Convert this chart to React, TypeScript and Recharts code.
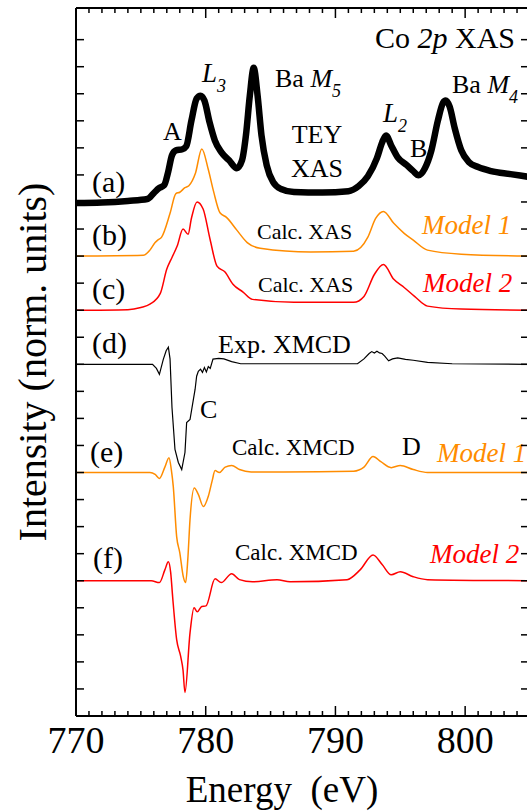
import { Customized, Line, LineChart, XAxis, YAxis } from "recharts";

// Co 2p XAS / XMCD, intensities in normalized units relative to each trace's baseline
const energyTey = [770, 772, 774, 775.5, 776.0, 776.4, 776.8, 777.1, 777.4, 777.7, 778.2, 778.5, 778.9, 779.3, 779.6, 779.9, 780.3, 780.7, 781.2, 781.8, 782.4, 782.8, 783.1, 783.4, 783.7, 784.0, 784.3, 784.7, 785.2, 785.8, 786.8, 789, 791.0, 791.8, 792.5, 793.2, 793.6, 793.9, 794.3, 794.8, 795.5, 796.0, 796.4, 796.9, 797.4, 797.9, 798.3, 798.5, 798.8, 799.2, 799.7, 800.3, 801, 802, 803.5, 805];
const teyXas = [-0.04, -0.02, 0.04, 0.11, 0.33, 0.51, 0.62, 1.1, 1.73, 1.91, 1.95, 2.06, 3.01, 3.82, 3.93, 3.75, 2.94, 2.28, 1.84, 1.54, 1.25, 1.54, 2.46, 3.93, 4.96, 3.93, 2.46, 1.36, 0.73, 0.48, 0.37, 0.35, 0.4, 0.59, 0.95, 1.62, 2.2, 2.46, 2.09, 1.65, 1.36, 1.14, 0.99, 1.25, 1.91, 3.01, 3.67, 3.75, 3.53, 2.72, 1.91, 1.47, 1.29, 1.14, 1.03, 0.92];

const energyXas1 = [770, 775.2, 775.7, 776.1, 776.3, 776.6, 777.25, 777.7, 778.0, 778.4, 778.7, 779.2, 779.7, 780.2, 780.6, 781.1, 781.6, 782.4, 783.2, 784.2, 788.1, 791.4, 792.5, 793.1, 793.7, 794.5, 795.3, 796.0, 797.1, 799.7, 805];
const calcXas1 = [0, 0.03, 0.22, 0.5, 0.59, 0.7, 1.58, 2.31, 2.36, 2.53, 2.6, 3.05, 3.96, 3.2, 2.4, 1.6, 1.43, 0.96, 0.5, 0.29, 0.15, 0.18, 0.7, 1.39, 1.65, 1.21, 0.84, 0.59, 0.22, 0.07, 0];

const energyXas2 = [770, 774, 775.0, 775.7, 776.5, 777.0, 777.4, 777.8, 778.25, 778.64, 778.9, 779.33, 779.8, 780.33, 780.87, 781.49, 782.1, 782.88, 783.6, 786.8, 791.4, 792.2, 793.0, 793.7, 794.5, 795.3, 796.1, 797.1, 799.7, 805];
const calcXas2 = [0, 0.02, 0.1, 0.22, 0.62, 1.52, 1.95, 2.37, 3.0, 2.81, 3.4, 4.0, 3.74, 2.63, 1.63, 1.41, 0.96, 0.67, 0.4, 0.29, 0.29, 0.51, 1.32, 1.69, 1.14, 0.84, 0.51, 0.15, 0.04, 0];

const energyExpXmcd = [770, 775.9, 776.2, 776.43, 776.73, 776.95, 777.12, 777.25, 777.4, 777.63, 777.89, 778.15, 778.4, 778.53, 778.79, 779.05, 779.18, 779.3, 779.43, 779.6, 779.75, 779.9, 780.05, 780.2, 780.35, 780.56, 781.0, 781.4, 782.0, 782.7, 791.7, 792.2, 792.6, 792.8, 793.0, 793.2, 793.4, 793.6, 793.8, 794.1, 794.4, 794.8, 795.4, 796.0, 797.1, 799, 805];
const expXmcd = [0, 0, -0.15, -0.37, 0.18, 0.5, 0.63, 0.2, -1.6, -3.15, -3.63, -3.89, -3.26, -2.15, -2.04, -1.3, -0.93, -0.44, -0.26, -0.18, -0.3, -0.12, -0.28, -0.08, -0.15, 0.19, 0.22, 0.2, 0.1, 0.02, 0.02, 0.2, 0.4, 0.47, 0.42, 0.48, 0.42, 0.4, 0.3, 0.13, 0.2, 0.24, 0.18, 0.15, 0.07, 0.02, 0];

const energyXmcd1 = [770, 775.7, 776.1, 776.43, 776.85, 777.17, 777.35, 777.5, 777.76, 778.0, 778.27, 778.45, 778.62, 778.79, 779.12, 779.43, 779.82, 780.2, 780.5, 780.72, 781.05, 781.5, 782.0, 782.6, 783.5, 786, 791.4, 792.2, 792.9, 793.5, 794.3, 795.0, 796.0, 797.1, 805];
const calcXmcd1 = [0, 0, -0.07, -0.22, 0.2, 0.55, 0.1, -0.52, -2.37, -2.96, -3.85, -4.07, -3.2, -1.74, -0.57, -0.81, -1.26, -0.88, -0.3, 0.07, 0, 0.2, 0.26, 0.11, 0.02, 0.02, 0.05, 0.2, 0.59, 0.4, 0.18, 0.26, 0.11, 0, 0];

const energyXmcd2 = [770, 775.8, 776.43, 776.85, 777.12, 777.3, 777.45, 777.76, 778.07, 778.25, 778.4, 778.79, 779.1, 779.35, 779.69, 780.02, 780.72, 781.2, 782.0, 782.6, 783.6, 785.5, 786.5, 790.9, 791.9, 792.9, 793.6, 794.3, 795.0, 796.0, 797.1, 805];
const calcXmcd2 = [0, 0, -0.07, 0.4, 0.7, 0.3, -0.59, -2.18, -2.8, -3.3, -4.13, -1.93, -1.0, -1.15, -0.95, -0.93, 0.07, -0.07, 0.26, 0.04, -0.04, 0.04, -0.04, 0.04, 0.4, 0.95, 0.6, 0.22, 0.33, 0.15, 0.04, 0];

// vertical offsets of traces (a)..(f)
const offsets = [19, 17, 15, 13, 9, 5];

const energyTicks = Array.from({ length: 36 }, (_, i) => 770 + i);
const energyLabels = [770, 780, 790, 800];
const intensityTicks = Array.from({ length: 26 }, (_, i) => i);

const ORANGE = "#ff8c00";
const RED = "#ff0000";
const FONT = "Liberation Serif";

const toRows = (xs: number[], ys: number[], offset: number) =>
  xs.map((x, i) => ({ x, y: ys[i] + offset }));

// (a) drives the top axis, (b) drives the right axis: same domains as bottom/left
const traces = [
  { key: "a", data: toRows(energyTey, teyXas, offsets[0]), color: "#000", width: 6.5, type: "monotone", xId: "top", yId: 0 },
  { key: "b", data: toRows(energyXas1, calcXas1, offsets[1]), color: ORANGE, width: 1.5, type: "monotone", xId: 0, yId: "right" },
  { key: "c", data: toRows(energyXas2, calcXas2, offsets[2]), color: RED, width: 1.5, type: "monotone", xId: 0, yId: 0 },
  { key: "d", data: toRows(energyExpXmcd, expXmcd, offsets[3]), color: "#000", width: 1.2, type: "linear", xId: 0, yId: 0 },
  { key: "e", data: toRows(energyXmcd1, calcXmcd1, offsets[4]), color: ORANGE, width: 1.5, type: "monotone", xId: 0, yId: 0 },
  { key: "f", data: toRows(energyXmcd2, calcXmcd2, offsets[5]), color: RED, width: 1.5, type: "monotone", xId: 0, yId: 0 },
];

const BottomTick = ({ x, y, payload }: any) => {
  const major = energyLabels.includes(payload.value);
  return (
    <g>
      <line x1={x} x2={x} y1={y} y2={y - (major ? 10 : 5)} stroke="#000" strokeWidth={1.5} />
      {major && (
        <text x={x} y={y + 37} textAnchor="middle" fontSize={38} style={{ fontFamily: FONT }} fill="#000">
          {payload.value}
        </text>
      )}
    </g>
  );
};

const TopTick = ({ x, y, payload }: any) => {
  const major = energyLabels.includes(payload.value);
  return <line x1={x} x2={x} y1={y} y2={y + (major ? 10 : 5)} stroke="#000" strokeWidth={1.5} />;
};

const LeftTick = ({ x, y }: any) => <line x1={x} x2={x + 8} y1={y} y2={y} stroke="#000" strokeWidth={1.5} />;
const RightTick = ({ x, y }: any) => <line x1={x} x2={x - 9} y1={y} y2={y} stroke="#000" strokeWidth={1.5} />;

const Sub = ({ children }: any) => (
  <tspan fontSize={18} dy={10} fontStyle="italic">
    {children}
  </tspan>
);

const Annotations = () => (
  <g style={{ fontFamily: FONT }} fill="#000">
    <text x={515} y={48} fontSize={30} textAnchor="end">
      Co <tspan fontStyle="italic">2p</tspan> XAS
    </text>
    <text x={202} y={82} fontSize={27}>
      <tspan fontStyle="italic">L</tspan>
      <Sub>3</Sub>
    </text>
    <text x={275} y={87} fontSize={26}>
      Ba <tspan fontStyle="italic">M</tspan>
      <Sub>5</Sub>
    </text>
    <text x={163} y={140} fontSize={26}>A</text>
    <text x={317} y={143} fontSize={26} textAnchor="middle">TEY</text>
    <text x={317} y={177} fontSize={26} textAnchor="middle">XAS</text>
    <text x={383} y={122} fontSize={27}>
      <tspan fontStyle="italic">L</tspan>
      <Sub>2</Sub>
    </text>
    <text x={410} y={157} fontSize={26}>B</text>
    <text x={452} y={93} fontSize={26}>
      Ba <tspan fontStyle="italic">M</tspan>
      <Sub>4</Sub>
    </text>

    <text x={92} y={192} fontSize={30}>(a)</text>
    <text x={92} y={245} fontSize={30}>(b)</text>
    <text x={92} y={299} fontSize={30}>(c)</text>
    <text x={92} y={353} fontSize={30}>(d)</text>
    <text x={90} y={462} fontSize={30}>(e)</text>
    <text x={93} y={568} fontSize={30}>(f)</text>

    <text x={257} y={239} fontSize={22}>Calc. XAS</text>
    <text x={258} y={292} fontSize={22}>Calc. XAS</text>
    <text x={218} y={353} fontSize={26}>Exp. XMCD</text>
    <text x={200} y={418} fontSize={26}>C</text>
    <text x={232} y={455} fontSize={23}>Calc. XMCD</text>
    <text x={402} y={455} fontSize={26}>D</text>
    <text x={235} y={560} fontSize={23}>Calc. XMCD</text>

    <text x={422} y={234} fontSize={27} fontStyle="italic" fill={ORANGE}>Model 1</text>
    <text x={423} y={292} fontSize={27} fontStyle="italic" fill={RED}>Model 2</text>
    <text x={437} y={462} fontSize={27} fontStyle="italic" fill={ORANGE}>Model 1</text>
    <text x={430} y={563} fontSize={27} fontStyle="italic" fill={RED}>Model 2</text>

    <text x={282} y={802} fontSize={37} textAnchor="middle" style={{ whiteSpace: "pre", fontFamily: FONT }}>
      {"Energy  (eV)"}
    </text>
    <text transform="translate(46,362) rotate(-90)" fontSize={40} textAnchor="middle">
      Intensity (norm. units)
    </text>
  </g>
);

export default function App() {
  return (
    <div style={{ position: "fixed", left: 0, top: 0, width: 527, height: 812, overflow: "hidden", background: "#fff" }}>
      <LineChart width={532} height={812} margin={{ top: 7, right: 1, bottom: 0, left: 75 }}>
        <XAxis
          dataKey="x"
          type="number"
          domain={[770, 805]}
          ticks={energyTicks}
          interval={0}
          height={96}
          tickSize={0}
          tickMargin={0}
          tickLine={false}
          tick={<BottomTick />}
          axisLine={{ stroke: "#000", strokeWidth: 2 }}
          allowDataOverflow
        />
        <XAxis
          xAxisId="top"
          orientation="top"
          dataKey="x"
          type="number"
          domain={[770, 805]}
          ticks={energyTicks}
          interval={0}
          height={1}
          tickSize={0}
          tickMargin={0}
          tickLine={false}
          tick={<TopTick />}
          axisLine={{ stroke: "#000", strokeWidth: 2 }}
          allowDataOverflow
        />
        <YAxis
          type="number"
          domain={[0, 26.17]}
          ticks={intensityTicks}
          interval={0}
          width={1}
          tickSize={0}
          tickMargin={0}
          tickLine={false}
          tick={<LeftTick />}
          axisLine={{ stroke: "#000", strokeWidth: 2 }}
          allowDataOverflow
        />
        <YAxis
          yAxisId="right"
          orientation="right"
          type="number"
          domain={[0, 26.17]}
          ticks={intensityTicks}
          interval={0}
          width={1}
          tickSize={0}
          tickMargin={0}
          tickLine={false}
          tick={<RightTick />}
          axisLine={{ stroke: "#000", strokeWidth: 2 }}
          allowDataOverflow
        />
        {traces.map((t) => (
          <Line
            key={t.key}
            data={t.data}
            dataKey="y"
            xAxisId={t.xId}
            yAxisId={t.yId}
            type={t.type as any}
            stroke={t.color}
            strokeWidth={t.width}
            dot={false}
            isAnimationActive={false}
          />
        ))}
        <Customized component={Annotations} />
      </LineChart>
    </div>
  );
}
